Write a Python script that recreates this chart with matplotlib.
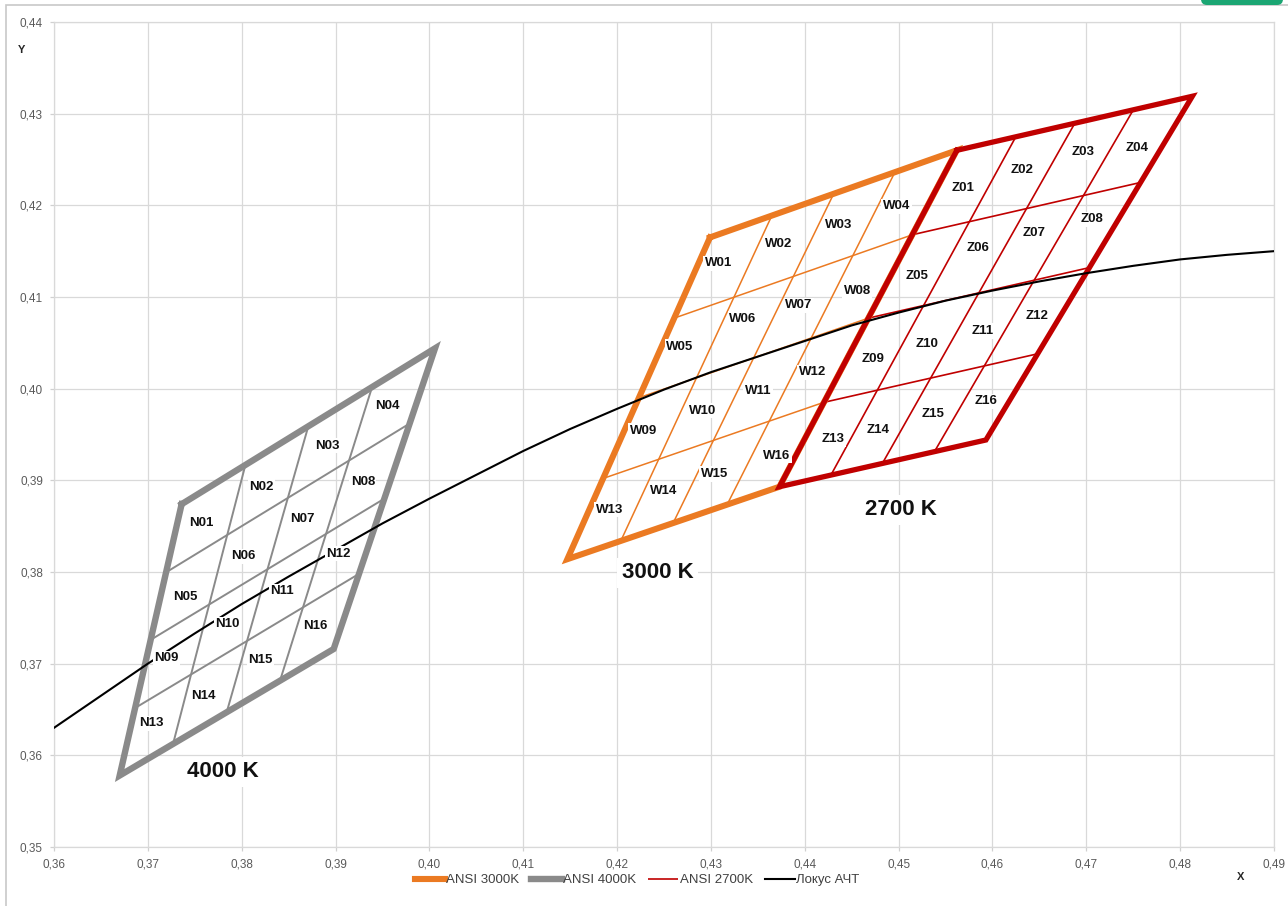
import matplotlib.pyplot as plt
from matplotlib.ticker import FuncFormatter, MultipleLocator
from matplotlib.patches import Rectangle, FancyBboxPatch
from matplotlib.transforms import IdentityTransform

# Quadrangle corners (TL, TR, BR, BL), CIE 1931 x, y
q4000_x = [0.3736, 0.4006, 0.3898, 0.3670]
q4000_y = [0.3874, 0.4044, 0.3716, 0.3578]
q3000_x = [0.4299, 0.4562, 0.4373, 0.4147]
q3000_y = [0.4165, 0.4260, 0.3893, 0.3814]
q2700_x = [0.4562, 0.4813, 0.4593, 0.4373]
q2700_y = [0.4260, 0.4319, 0.3944, 0.3893]

# Inner sub-quadrangle lines (x1, y1, x2, y2)
g4000 = [(0.3804, 0.3917, 0.3727, 0.3613),
         (0.3871, 0.3959, 0.3784, 0.3647),
         (0.3939, 0.4002, 0.3841, 0.3682),
         (0.3720, 0.3800, 0.3979, 0.3962),
         (0.3703, 0.3726, 0.3952, 0.3880),
         (0.3687, 0.3652, 0.3925, 0.3798)]
g3000 = [(0.4365, 0.4189, 0.4204, 0.3834),
         (0.4431, 0.4213, 0.4260, 0.3854),
         (0.4496, 0.4236, 0.4317, 0.3873),
         (0.4261, 0.4077, 0.4515, 0.4168),
         (0.4223, 0.3990, 0.4468, 0.4077),
         (0.4185, 0.3902, 0.4420, 0.3985)]
g2700 = [(0.4625, 0.4275, 0.4428, 0.3906),
         (0.4688, 0.4290, 0.4483, 0.3919),
         (0.4750, 0.4304, 0.4538, 0.3931),
         (0.4515, 0.4168, 0.4758, 0.4225),
         (0.4468, 0.4077, 0.4703, 0.4132),
         (0.4420, 0.3985, 0.4648, 0.4038)]

# Planckian locus
locus_x = [0.3600, 0.3650, 0.3700, 0.3750, 0.3800, 0.3850, 0.3900, 0.3950, 0.4000,
           0.4050, 0.4100, 0.4150, 0.4200, 0.4250, 0.4300, 0.4350, 0.4400, 0.4450,
           0.4500, 0.4550, 0.4600, 0.4650, 0.4700, 0.4750, 0.4800, 0.4850, 0.4900]
locus_y = [0.3630, 0.3665, 0.3700, 0.3733, 0.3765, 0.3795, 0.3824, 0.3853, 0.3880,
           0.3906, 0.3932, 0.3956, 0.3978, 0.3999, 0.4018, 0.4035, 0.4052, 0.4069,
           0.4083, 0.4096, 0.4107, 0.4117, 0.4126, 0.4134, 0.4141, 0.4146, 0.4150]

# Bin labels
n_names = ['N01', 'N02', 'N03', 'N04', 'N05', 'N06', 'N07', 'N08',
           'N09', 'N10', 'N11', 'N12', 'N13', 'N14', 'N15', 'N16']
n_lx = [0.3757, 0.3821, 0.3891, 0.3955, 0.3740, 0.3802, 0.3865, 0.3929,
        0.3720, 0.3785, 0.3843, 0.3903, 0.3704, 0.3759, 0.3820, 0.3878]
n_ly = [0.3854, 0.3893, 0.3938, 0.3981, 0.3773, 0.3817, 0.3858, 0.3898,
        0.3706, 0.3743, 0.3779, 0.3820, 0.3635, 0.3665, 0.3704, 0.3741]
w_names = ['W01', 'W02', 'W03', 'W04', 'W05', 'W06', 'W07', 'W08',
           'W09', 'W10', 'W11', 'W12', 'W13', 'W14', 'W15', 'W16']
w_lx = [0.4308, 0.4372, 0.4436, 0.4498, 0.4267, 0.4334, 0.4394, 0.4456,
        0.4228, 0.4291, 0.4350, 0.4408, 0.4192, 0.4250, 0.4304, 0.4370]
w_ly = [0.4137, 0.4158, 0.4179, 0.4199, 0.4046, 0.4076, 0.4091, 0.4106,
        0.3954, 0.3976, 0.3998, 0.4018, 0.3868, 0.3888, 0.3907, 0.3927]
z_names = ['Z01', 'Z02', 'Z03', 'Z04', 'Z05', 'Z06', 'Z07', 'Z08',
           'Z09', 'Z10', 'Z11', 'Z12', 'Z13', 'Z14', 'Z15', 'Z16']
z_lx = [0.4569, 0.4632, 0.4697, 0.4754, 0.4520, 0.4585, 0.4644, 0.4706,
        0.4473, 0.4530, 0.4590, 0.4648, 0.4430, 0.4478, 0.4537, 0.4593]
z_ly = [0.4219, 0.4239, 0.4258, 0.4263, 0.4123, 0.4153, 0.4170, 0.4185,
        0.4032, 0.4049, 0.4063, 0.4079, 0.3945, 0.3955, 0.3972, 0.3986]

# CCT captions
cct_names = ['4000 K', '3000 K', '2700 K']
cct_x = [0.3780, 0.4243, 0.4502]
cct_y = [0.3582, 0.3799, 0.3868]

plt.rcParams['font.family'] = ['Liberation Sans', 'DejaVu Sans']

ORANGE = '#EB7A22'
GRAY = '#8A8A8A'
RED = '#C00000'

fig = plt.figure(figsize=(12.88, 9.06), dpi=100)
ax = fig.add_axes([54 / 1288, 1 - 847 / 906, 1220 / 1288, 825 / 906])


def draw_quad(qx, qy, grid, color, lw_out, lw_in, z, label_out=None, label_in=None):
    for i, (x1, y1, x2, y2) in enumerate(grid):
        ax.plot([x1, x2], [y1, y2], color=color, lw=lw_in, zorder=3,
                solid_capstyle='butt', label=label_in if i == 0 else None)
    ax.plot(qx + qx[:1], qy + qy[:1], color=color, lw=lw_out, zorder=z,
            solid_joinstyle='miter', label=label_out)


draw_quad(q3000_x, q3000_y, g3000, ORANGE, 4.4, 1.1, 4, label_out='ANSI 3000K')
draw_quad(q4000_x, q4000_y, g4000, GRAY, 4.6, 1.4, 4, label_out='ANSI 4000K')
draw_quad(q2700_x, q2700_y, g2700, RED, 3.8, 1.2, 5, label_in='ANSI 2700K')

ax.plot(locus_x, locus_y, color='black', lw=1.5, zorder=6, label='Локус АЧТ')

# Bin labels with white background
box = dict(boxstyle='square,pad=0.12', fc='white', ec='none')
for names, lx, ly in [(n_names, n_lx, n_ly), (w_names, w_lx, w_ly), (z_names, z_lx, z_ly)]:
    for name, x, y in zip(names, lx, ly):
        ax.text(x, y, name, ha='center', va='center', fontsize=9.5,
                fontweight='bold', color='#111111', bbox=box, zorder=7)

for name, x, y in zip(cct_names, cct_x, cct_y):
    ax.text(x, y, name, ha='center', va='center', fontsize=16, fontweight='bold',
            color='#111111', zorder=7,
            bbox=dict(boxstyle='square,pad=0.2', fc='white', ec='none'))

# Axes
ax.set_xlim(0.36, 0.49)
ax.set_ylim(0.35, 0.44)
ax.xaxis.set_major_locator(MultipleLocator(0.01))
ax.yaxis.set_major_locator(MultipleLocator(0.01))
fmt = FuncFormatter(lambda v, p: f'{v:.2f}'.replace('.', ','))
ax.xaxis.set_major_formatter(fmt)
ax.yaxis.set_major_formatter(fmt)
ax.grid(True, color='#D9D9D9', lw=0.9, zorder=0)
ax.set_axisbelow(True)
for s in ax.spines.values():
    s.set_color('#D9D9D9')
    s.set_linewidth(0.9)
ax.tick_params(colors='#D0D0D0', length=3, width=0.9, labelsize=8.5,
               labelcolor='#5A5A5A', pad=5)

fig.text(22 / 1288, 1 - 50 / 906, 'Y', fontsize=8, fontweight='bold',
         ha='center', va='center', color='#262626')
fig.text(1241 / 1288, 1 - 877 / 906, 'X', fontsize=8, fontweight='bold',
         ha='center', va='center', color='#262626')

# Legend
h, l = ax.get_legend_handles_labels()
order = ['ANSI 3000K', 'ANSI 4000K', 'ANSI 2700K', 'Локус АЧТ']
hh = [h[l.index(o)] for o in order]
leg = ax.legend(hh, order, loc='center', bbox_to_anchor=((637 - 54) / 1220, -33 / 825),
                ncol=4, frameon=False, fontsize=9.5, handlelength=2.3,
                handletextpad=0.1, columnspacing=0.9)
for t in leg.get_texts():
    t.set_color('#404040')

# Chart frame and the edge of the page element above it
fig.add_artist(Rectangle((6 / 1288, -0.05), 1.1, 0.05 + 901 / 906,
                         transform=fig.transFigure, fill=False,
                         ec='#C8C8C8', lw=1.2))
fig.add_artist(FancyBboxPatch((1201, 901), 82, 20, boxstyle='round,pad=0,rounding_size=6',
                              transform=IdentityTransform(), fc='#1BA673', ec='none'))

fig.savefig('out.png', dpi=100)
